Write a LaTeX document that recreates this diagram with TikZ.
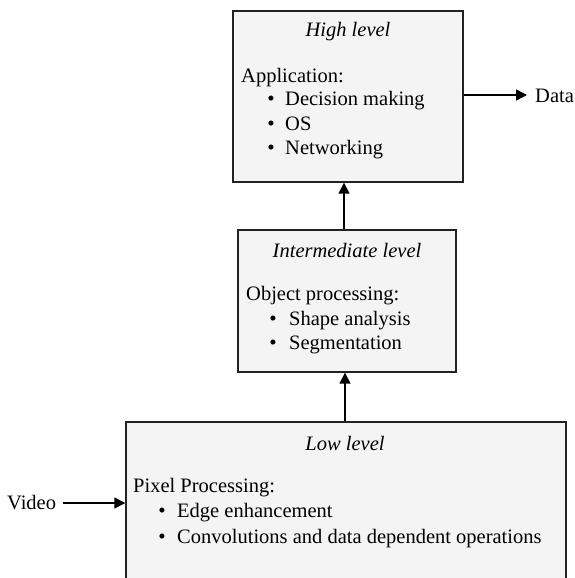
\documentclass[tikz,border=0pt]{standalone}
\usepackage{fontspec}
\setmainfont{Liberation Serif}
\usetikzlibrary{arrows.meta}
\definecolor{boxfill}{HTML}{F4F4F4}
\definecolor{boxline}{HTML}{222222}
\tikzset{
  lvlbox/.style={draw=boxline, fill=boxfill, line width=1.4pt, rectangle, inner sep=0pt},
  txt/.style={inner sep=0pt, anchor=base west, font=\fontsize{20.5}{24}\selectfont},
  ttl/.style={inner sep=0pt, anchor=base, font=\fontsize{20.5}{24}\selectfont\itshape},
  bul/.style={inner sep=0pt, anchor=base, font=\fontsize{21}{24}\selectfont},
  conn/.style={line width=1.5pt, draw=black, -{Triangle[length=11pt,width=11pt]}}
}
\begin{document}
\begin{tikzpicture}[x=1pt,y=1pt]
\useasboundingbox (0,0) rectangle (575,-578);
\clip (0,0) rectangle (575,-578);
% boxes
\node[lvlbox, minimum width=230, minimum height=171] (high) at (348,-96.5) {};
\node[lvlbox, minimum width=218, minimum height=142] (mid) at (347,-301) {};
\node[lvlbox, minimum width=440, minimum height=180] (low) at (346,-512) {};
% high texts
\node[ttl] (hT) at (348,-37) {High level};
\node[txt] (hA) at (241,-82) {Application:};
\node[bul] (hb1) at (271,-105) {\textbullet};
\node[txt] (h1) at (285,-105) {Decision making};
\node[bul] (hb2) at (271,-130) {\textbullet};
\node[txt] (h2) at (285,-130) {OS};
\node[bul] (hb3) at (271,-154) {\textbullet};
\node[txt] (h3) at (285,-154) {Networking};
% mid texts
\node[ttl] (mT) at (347,-257) {Intermediate level};
\node[txt] (mA) at (246,-300) {Object processing:};
\node[bul] (mb1) at (273,-325) {\textbullet};
\node[txt] (m1) at (289,-325) {Shape analysis};
\node[bul] (mb2) at (273,-349) {\textbullet};
\node[txt] (m2) at (289,-349) {Segmentation};
% low texts
\node[ttl] (lT) at (345,-450) {Low level};
\node[txt] (lA) at (133,-492) {Pixel Processing:};
\node[bul] (lb1) at (162,-517) {\textbullet};
\node[txt] (l1) at (177,-517) {Edge enhancement};
\node[bul] (lb2) at (162,-543) {\textbullet};
\node[txt] (l2) at (177,-543) {Convolutions and data dependent operations};
% outside labels
\node[txt] (video) at (7,-509) {Video};
\node[txt] (data) at (535,-102) {Data};
% connectors
\coordinate (a1) at (345,0);
\coordinate (a2) at (344,0);
\coordinate (de) at (527,-95);
\coordinate (vs) at (63,-503);
\draw[conn] (low.north -| a1) -- (mid.south -| a1);
\draw[conn] (mid.north -| a2) -- (high.south -| a2);
\draw[conn] (high.east |- de) -- (de);
\draw[conn] (vs) -- (low.west |- vs);
\end{tikzpicture}
\end{document}
